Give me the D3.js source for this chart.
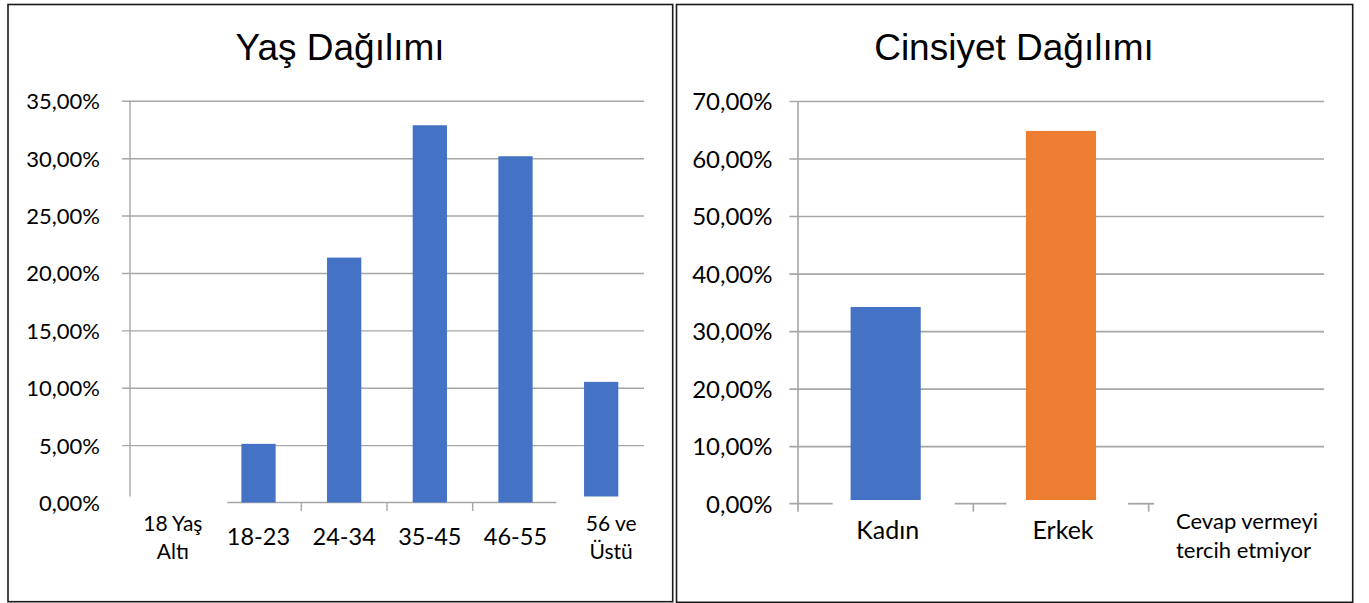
<!DOCTYPE html>
<html>
<head>
<meta charset="utf-8">
<script src="https://cdn.jsdelivr.net/npm/d3@7"></script>
<style>
  html, body { margin: 0; padding: 0; background: #fff; }
  svg { display: block; }
</style>
</head>
<body>
<svg id="chart" width="1369" height="603"></svg>
<script>
// ---- DATA ----
const ageTitle = "Yaş Dağılımı";
const ageCategories = ["18 Yaş Altı", "18-23", "24-34", "35-45", "46-55", "56 ve Üstü"];
const ageLabelLines = [["18 Yaş", "Altı"], ["18-23"], ["24-34"], ["35-45"], ["46-55"], ["56 ve", "Üstü"]];
const ageValues = [0, 5.11, 21.34, 32.87, 30.17, 10.51];
const ageTicks = [0, 5, 10, 15, 20, 25, 30, 35];

const genderTitle = "Cinsiyet Dağılımı";
const genderCategories = ["Kadın", "Erkek", "Cevap vermeyi tercih etmiyor"];
const genderLabelLines = [["Kadın"], ["Erkek"], ["Cevap vermeyi", "tercih etmiyor"]];
const genderValues = [34.2, 64.8, 0];
const genderTicks = [0, 10, 20, 30, 40, 50, 60, 70];

// ---- STYLE ----
const BLUE = "#4472C4", ORANGE = "#ED7D31", GRID = "#a6a6a6";
const ageColors = ageCategories.map(() => BLUE);
const genderColors = [BLUE, ORANGE, "#A5A5A5"];
const bodyFont = "Lato, 'Open Sans', sans-serif";
const titleFont = "'Liberation Sans', Arial, sans-serif";

const trLocale = d3.formatLocale({decimal: ",", thousands: ".", grouping: [3], currency: ["", "₺"]});
const pct = v => trLocale.format(".2%")(v / 100);

const svg = d3.select("#chart");

// panel borders
svg.append("rect").attr("x", 8).attr("y", 4.5).attr("width", 664.7).attr("height", 597.2)
  .attr("fill", "none").attr("stroke", "#1a1a1a").attr("stroke-width", 1.6);
svg.append("rect").attr("x", 676.5).attr("y", 4.5).attr("width", 676.2).attr("height", 597.8)
  .attr("fill", "none").attr("stroke", "#1a1a1a").attr("stroke-width", 1.6);

// ================= LEFT: Age =================
(function () {
  const g = svg.append("g");
  const x = d3.scaleBand().domain(ageCategories).range([130, 644]).paddingInner(0.6).paddingOuter(0.3);
  const y = d3.scaleLinear().domain([0, 35]).range([502.5, 100.8]);
  const step = x.step(), bw = x.bandwidth();
  const boundary = i => x.range()[0] + i * step;

  g.append("text").attr("x", 340).attr("y", 59.5).attr("text-anchor", "middle")
    .attr("font-family", titleFont).attr("font-size", 37).attr("fill", "#000").text(ageTitle);

  // y axis with gridlines
  const yAxis = d3.axisLeft(y).tickValues(ageTicks).tickFormat(pct)
    .tickSize(-(644 - 122)).tickPadding(22);
  const ya = g.append("g").attr("transform", "translate(122,0)").call(yAxis);
  ya.select(".domain").remove();
  ya.selectAll(".tick line").attr("stroke", GRID).attr("stroke-width", 1.4)
    .filter(d => d === 0).remove();
  ya.selectAll(".tick text").attr("font-family", bodyFont).attr("font-size", 22)
    .attr("fill", "#000").attr("dy", "0.36em");

  // vertical axis line
  g.append("line").attr("x1", 130).attr("x2", 130).attr("y1", y(35)).attr("y2", y(0) - 6)
    .attr("stroke", GRID).attr("stroke-width", 1.4);

  // baseline (partial) and ticks
  g.append("line").attr("x1", x(ageCategories[1]) - 14).attr("x2", boundary(5) - 2)
    .attr("y1", y(0)).attr("y2", y(0)).attr("stroke", GRID).attr("stroke-width", 1.4);
  [2, 3, 4].forEach(i => {
    g.append("line").attr("x1", boundary(i)).attr("x2", boundary(i))
      .attr("y1", y(0)).attr("y2", y(0) + 8.5).attr("stroke", GRID).attr("stroke-width", 1.4);
  });

  // bars
  const lift = ageCategories.map((c, i) => i === ageCategories.length - 1 ? 6 : 0);
  g.selectAll("rect.bar").data(ageValues).join("rect").attr("class", "bar")
    .attr("x", (d, i) => x(ageCategories[i]))
    .attr("width", bw)
    .attr("y", d => y(d))
    .attr("height", (d, i) => Math.max(0, y(0) - lift[i] - y(d)))
    .attr("fill", (d, i) => ageColors[i]);

  // x labels
  ageLabelLines.forEach((lines, i) => {
    const cx = x(ageCategories[i]) + bw / 2 + (i === ageCategories.length - 1 ? 10 : 0);
    if (lines.length === 1) {
      g.append("text").attr("x", cx).attr("y", 545).attr("text-anchor", "middle")
        .attr("font-family", bodyFont).attr("font-size", 23.5).attr("fill", "#000").text(lines[0]);
    } else {
      lines.forEach((t, k) => {
        g.append("text").attr("x", cx).attr("y", 530.5 + k * 28.5).attr("text-anchor", "middle")
          .attr("font-family", bodyFont).attr("font-size", 21).attr("fill", "#000").text(t);
      });
    }
  });
})();

// ================= RIGHT: Gender =================
(function () {
  const g = svg.append("g");
  const x = d3.scaleBand().domain(genderCategories).range([798, 1324]).paddingInner(0.6).paddingOuter(0.3);
  const y = d3.scaleLinear().domain([0, 70]).range([503.7, 101]);
  const step = x.step(), bw = x.bandwidth();
  const boundary = i => x.range()[0] + i * step;

  g.append("text").attr("x", 1014).attr("y", 60).attr("text-anchor", "middle")
    .attr("font-family", titleFont).attr("font-size", 37).attr("fill", "#000").text(genderTitle);

  const yAxis = d3.axisLeft(y).tickValues(genderTicks).tickFormat(pct)
    .tickSize(-(1324 - 789.5)).tickPadding(17);
  const ya = g.append("g").attr("transform", "translate(789.5,0)").call(yAxis);
  ya.select(".domain").remove();
  ya.selectAll(".tick line").attr("stroke", GRID).attr("stroke-width", 1.6)
    .filter(d => d === 0).remove();
  ya.selectAll(".tick text").attr("font-family", bodyFont).attr("font-size", 24)
    .attr("fill", "#000").attr("dy", "0.36em");

  // vertical axis
  g.append("line").attr("x1", 798).attr("x2", 798).attr("y1", y(70)).attr("y2", y(0) + 8)
    .attr("stroke", GRID).attr("stroke-width", 1.6);

  // baseline segments
  const k0 = x(genderCategories[0]), k1 = x(genderCategories[1]);
  const segs = [
    [789.5, k0 - 18],
    [k0 + bw + 34, k1 - 19.5],
    [k1 + bw + 32, boundary(2) + 5.5]
  ];
  segs.forEach(s => {
    g.append("line").attr("x1", s[0]).attr("x2", s[1]).attr("y1", y(0)).attr("y2", y(0))
      .attr("stroke", GRID).attr("stroke-width", 1.8);
  });
  [1, 2].forEach(i => {
    g.append("line").attr("x1", boundary(i)).attr("x2", boundary(i))
      .attr("y1", y(0)).attr("y2", y(0) + 8).attr("stroke", GRID).attr("stroke-width", 1.6);
  });

  // bars
  const lift = 3.7;
  g.selectAll("rect.bar").data(genderValues).join("rect").attr("class", "bar")
    .attr("x", (d, i) => x(genderCategories[i]))
    .attr("width", bw)
    .attr("y", d => y(d))
    .attr("height", d => Math.max(0, y(0) - lift - y(d)))
    .attr("fill", (d, i) => genderColors[i]);

  // x labels
  genderLabelLines.forEach((lines, i) => {
    const cx = x(genderCategories[i]) + bw / 2;
    if (lines.length === 1) {
      g.append("text").attr("x", cx + 2).attr("y", 538.5).attr("text-anchor", "middle")
        .attr("font-family", bodyFont).attr("font-size", 25).attr("fill", "#000").text(lines[0]);
    } else {
      lines.forEach((t, k) => {
        g.append("text").attr("x", 1176).attr("y", 528.5 + k * 29).attr("text-anchor", "start")
          .attr("font-family", bodyFont).attr("font-size", 22).attr("fill", "#000").text(t);
      });
    }
  });
})();
</script>
</body>
</html>
